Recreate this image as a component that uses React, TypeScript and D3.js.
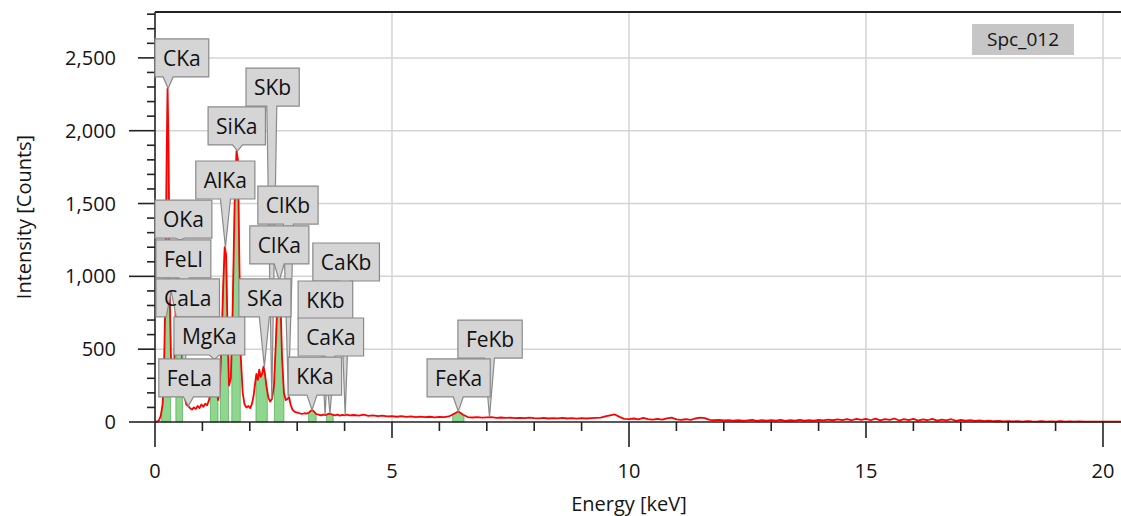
import React, { useRef, useEffect } from 'react';
import * as d3 from 'd3';

// spectrum: [energy keV, counts]
const spectrum: [number, number][] = [
  [0, 0], [0.04, 2], [0.08, 10], [0.12, 40], [0.16, 120], [0.19, 350], [0.22, 900], [0.245, 1800],
  [0.265, 2290], [0.285, 1900], [0.31, 900], [0.34, 380], [0.37, 220], [0.4, 300], [0.43, 700],
  [0.455, 1050], [0.48, 600], [0.5, 800], [0.525, 1250], [0.55, 800], [0.58, 300], [0.62, 180],
  [0.66, 120], [0.7, 110], [0.74, 95], [0.78, 85], [0.82, 100], [0.86, 90], [0.9, 110], [0.94, 95],
  [0.98, 120], [1.02, 105], [1.06, 125], [1.1, 115], [1.14, 150], [1.18, 220], [1.21, 330],
  [1.24, 430], [1.27, 400], [1.3, 250], [1.33, 150], [1.36, 200], [1.4, 500], [1.44, 950],
  [1.47, 1200], [1.5, 1150], [1.53, 650], [1.56, 250], [1.6, 300], [1.64, 800], [1.68, 1500],
  [1.72, 1860], [1.75, 1800], [1.78, 1100], [1.81, 450], [1.85, 200], [1.89, 120], [1.93, 100],
  [1.97, 110], [2.01, 95], [2.05, 130], [2.08, 180], [2.11, 260], [2.14, 330], [2.17, 290],
  [2.2, 360], [2.23, 310], [2.26, 330], [2.29, 380], [2.32, 330], [2.35, 250], [2.39, 170],
  [2.43, 140], [2.47, 160], [2.51, 250], [2.55, 550], [2.59, 900], [2.62, 970], [2.65, 800],
  [2.68, 450], [2.72, 200], [2.76, 150], [2.8, 160], [2.83, 170], [2.86, 120], [2.9, 85],
  [2.95, 70], [3.0, 65], [3.05, 60], [3.1, 55], [3.15, 60], [3.2, 58], [3.25, 65], [3.29, 78],
  [3.32, 82], [3.36, 70], [3.4, 55], [3.45, 50], [3.5, 45], [3.55, 50], [3.6, 48], [3.65, 55],
  [3.69, 58], [3.74, 50], [3.8, 45], [3.85, 50], [3.9, 44], [3.95, 49], [4.0, 46], [4.05, 51],
  [4.1, 45], [4.2, 48], [4.3, 44], [4.4, 50], [4.5, 42], [4.6, 46], [4.7, 40], [4.8, 44],
  [4.9, 38], [5.0, 41], [5.1, 36], [5.2, 40], [5.3, 35], [5.4, 38], [5.5, 33], [5.6, 37],
  [5.7, 34], [5.8, 36], [5.9, 32], [6.0, 35], [6.1, 33], [6.2, 38], [6.3, 55], [6.4, 72],
  [6.5, 50], [6.6, 34], [6.7, 31], [6.8, 33], [6.9, 30], [7.0, 32], [7.1, 34], [7.2, 29],
  [7.3, 31], [7.4, 28], [7.5, 30], [7.6, 27], [7.7, 29], [7.8, 26], [7.9, 30], [8.0, 27],
  [8.1, 25], [8.2, 28], [8.3, 24], [8.4, 27], [8.5, 25], [8.6, 28], [8.7, 24], [8.8, 26],
  [8.9, 23], [9.0, 27], [9.1, 24], [9.2, 26], [9.3, 28], [9.4, 30], [9.5, 38], [9.6, 45],
  [9.7, 52], [9.8, 35], [9.9, 22], [10.0, 20], [10.1, 24], [10.2, 18], [10.3, 28], [10.4, 20],
  [10.5, 17], [10.6, 21], [10.7, 16], [10.8, 25], [10.9, 30], [11.0, 18], [11.1, 15], [11.2, 19],
  [11.3, 14], [11.4, 24], [11.5, 30], [11.6, 26], [11.7, 14], [11.8, 12], [11.9, 15], [12.0, 11],
  [12.1, 13], [12.2, 10], [12.3, 12], [12.4, 9], [12.5, 11], [12.6, 14], [12.7, 8], [12.8, 12],
  [12.9, 10], [13.0, 13], [13.1, 9], [13.2, 15], [13.3, 8], [13.4, 12], [13.5, 10], [13.6, 14],
  [13.7, 9], [13.8, 13], [13.9, 10], [14.0, 15], [14.1, 11], [14.2, 16], [14.3, 12], [14.4, 18],
  [14.5, 13], [14.6, 20], [14.7, 12], [14.8, 22], [14.9, 14], [15.0, 21], [15.1, 12], [15.2, 23],
  [15.3, 11], [15.4, 20], [15.5, 14], [15.6, 24], [15.7, 10], [15.8, 19], [15.9, 13], [16.0, 22],
  [16.1, 9], [16.2, 18], [16.3, 12], [16.4, 21], [16.5, 10], [16.6, 17], [16.7, 11], [16.8, 19],
  [16.9, 8], [17.0, 15], [17.1, 9], [17.2, 13], [17.3, 7], [17.4, 11], [17.5, 6], [17.6, 9],
  [17.7, 5], [17.8, 7], [17.9, 4], [18.0, 6], [18.1, 4], [18.2, 5], [18.3, 3], [18.4, 6],
  [18.5, 4], [18.6, 3], [18.7, 5], [18.8, 3], [18.9, 4], [19.0, 3], [19.1, 5], [19.2, 3],
  [19.3, 4], [19.4, 2], [19.5, 4], [19.6, 3], [19.7, 3], [19.8, 2], [19.9, 3], [20.0, 2],
  [20.1, 3], [20.2, 2], [20.3, 2], [20.4, 2],
];

// energy windows of the identified peaks (green)
const peakWindows: [number, number][] = [
  [0.14, 0.33], [0.44, 0.58], [1.17, 1.33], [1.38, 1.55], [1.62, 1.8], [2.13, 2.37],
  [2.52, 2.72], [3.24, 3.4], [3.62, 3.76], [6.28, 6.52],
];

const lineNames = ['CKa', 'SKb', 'SiKa', 'AlKa', 'ClKb', 'OKa', 'FeLl', 'ClKa', 'CaKb', 'CaLa',
  'SKa', 'KKb', 'MgKa', 'CaKa', 'FeLa', 'KKa', 'FeKb', 'FeKa'];
const lineEnergies = [0.277, 2.464, 1.74, 1.486, 2.815, 0.525, 0.615, 2.621, 4.012, 0.341,
  2.307, 3.589, 1.253, 3.69, 0.705, 3.312, 7.057, 6.398];

// where each callout box sits (left keV, top counts)
const boxAnchors: [number, number][] = [
  [0, 2630], [1.92, 2430], [1.12, 2163], [0.86, 1792], [2.17, 1620], [0, 1524], [0.02, 1250],
  [2.0, 1346], [3.33, 1229], [0.02, 983], [1.77, 983], [3.02, 968], [0.4, 721], [3.02, 714],
  [0.08, 433], [2.81, 446], [6.39, 700], [5.74, 433],
];

const yTickLabels = ['0', '500', '1,000', '1,500', '2,000', '2,500'];
const xTickLabels = ['0', '5', '10', '15', '20'];
const spectrumName = 'Spc_012';

const W = 1121, H = 516;
const FONT = "'Open Sans', 'Noto Sans', sans-serif";

function Spectrum() {
  const svgRef = useRef<SVGSVGElement>(null);

  useEffect(() => {
    const svg = d3.select(svgRef.current);
    svg.selectAll('*').remove();

    const x = d3.scaleLinear().domain([0, 20.38]).range([155, W]);
    const y = d3.scaleLinear().domain([0, 2815]).range([422, 12]);

    const countAt = (e: number) => {
      const i = d3.bisector((d: [number, number]) => d[0]).left(spectrum, e);
      if (i <= 0) return spectrum[0][1];
      if (i >= spectrum.length) return spectrum[spectrum.length - 1][1];
      const [e0, c0] = spectrum[i - 1];
      const [e1, c1] = spectrum[i];
      return c0 + (c1 - c0) * (e - e0) / (e1 - e0);
    };

    // grid
    const grid = svg.append('g').attr('stroke', '#d4d4d4').attr('stroke-width', 1.5);
    d3.range(500, 2501, 500).forEach(v => {
      grid.append('line').attr('x1', x(0)).attr('x2', W).attr('y1', y(v)).attr('y2', y(v));
    });
    d3.range(5, 21, 5).forEach(v => {
      grid.append('line').attr('x1', x(v)).attr('x2', x(v)).attr('y1', 12).attr('y2', y(0));
    });

    // green peak areas
    const area = d3.area<[number, number]>().x(d => x(d[0])).y0(y(0)).y1(d => y(d[1]));
    peakWindows.forEach(([a, b]) => {
      const pts: [number, number][] = [[a, countAt(a)], ...spectrum.filter(d => d[0] > a && d[0] < b), [b, countAt(b)]];
      svg.append('path').attr('d', area(pts)).attr('fill', '#8fd68f').attr('stroke', '#3f9f3f').attr('stroke-width', 0.6);
    });

    // spectrum line
    const line = d3.line<[number, number]>().x(d => x(d[0])).y(d => y(d[1]));
    svg.append('path').attr('d', line(spectrum)).attr('fill', 'none')
      .attr('stroke', '#ff0000').attr('stroke-width', 1.8).attr('stroke-linejoin', 'round');

    // axes
    const ax = svg.append('g').attr('stroke', '#222').attr('stroke-width', 1.6);
    ax.append('line').attr('x1', x(0)).attr('x2', W).attr('y1', 12).attr('y2', 12).attr('stroke-width', 2);
    ax.append('line').attr('x1', x(0)).attr('x2', x(0)).attr('y1', 12).attr('y2', y(0));
    ax.append('line').attr('x1', x(0)).attr('x2', W).attr('y1', y(0)).attr('y2', y(0));
    d3.range(0, 2801, 100).forEach(v => {
      const len = v % 1000 === 0 ? 26 : v % 500 === 0 ? 17 : 8;
      ax.append('line').attr('x1', x(0) - len).attr('x2', x(0)).attr('y1', y(v)).attr('y2', y(v));
    });
    d3.range(0, 21, 1).forEach(v => {
      const len = v % 10 === 0 ? 25 : v % 5 === 0 ? 16 : 9;
      ax.append('line').attr('x1', x(v)).attr('x2', x(v)).attr('y1', y(0)).attr('y2', y(0) + len);
    });

    const txt = svg.append('g').attr('font-family', FONT).attr('font-size', 20).attr('fill', '#151515');
    yTickLabels.forEach((t, i) => {
      txt.append('text').attr('x', 116).attr('y', y(i * 500)).attr('dy', '0.35em')
        .attr('text-anchor', 'end').text(t);
    });
    xTickLabels.forEach((t, i) => {
      txt.append('text').attr('x', x(i * 5)).attr('y', 478).attr('text-anchor', 'middle').text(t);
    });
    txt.append('text').attr('x', x(10)).attr('y', 511).attr('text-anchor', 'middle').text('Energy [keV]');
    txt.append('text').attr('transform', `translate(31,${(y(0) + 12) / 2}) rotate(-90)`)
      .attr('text-anchor', 'middle').text('Intensity [Counts]');

    // legend
    const lg = svg.append('g');
    lg.append('rect').attr('x', 972).attr('y', 24).attr('width', 102).attr('height', 31).attr('fill', '#c6c6c6');
    lg.append('text').attr('x', 1023).attr('y', 46).attr('text-anchor', 'middle')
      .attr('font-family', FONT).attr('font-size', 19).attr('fill', '#151515').text(spectrumName);

    // callouts
    const cg = svg.append('g');
    lineNames.forEach((name, i) => {
      const e = lineEnergies[i];
      const tipX = x(e);
      const tipC = d3.max(spectrum.filter(d => Math.abs(d[0] - e) <= 0.035), d => d[1]) ?? countAt(e);
      const tipY = y(Math.max(tipC, countAt(e)));
      const bx = x(boxAnchors[i][0]);
      const by = y(boxAnchors[i][1]);
      const g = cg.append('g');
      const path = g.append('path');
      const label = g.append('text').attr('font-family', FONT).attr('font-size', 21).attr('fill', '#111').text(name);
      const tw = (label.node() as SVGTextElement).getComputedTextLength();
      const bw = tw + 16, bh = 38;
      label.attr('x', bx + 8).attr('y', by + 27);
      const l = Math.max(bx, tipX - 5), r = Math.min(bx + bw, tipX + 5);
      path.attr('d', `M${bx},${by}H${bx + bw}V${by + bh}H${r}L${tipX},${tipY}L${l},${by + bh}H${bx}Z`)
        .attr('fill', '#d5d5d5').attr('stroke', '#8a8a8a').attr('stroke-width', 1.2);
    });
  }, []);

  return <svg ref={svgRef} width={W} height={H} style={{ position: 'absolute', left: 0, top: 0, background: '#fff' }} />;
}

export default function App() {
  return <Spectrum />;
}
